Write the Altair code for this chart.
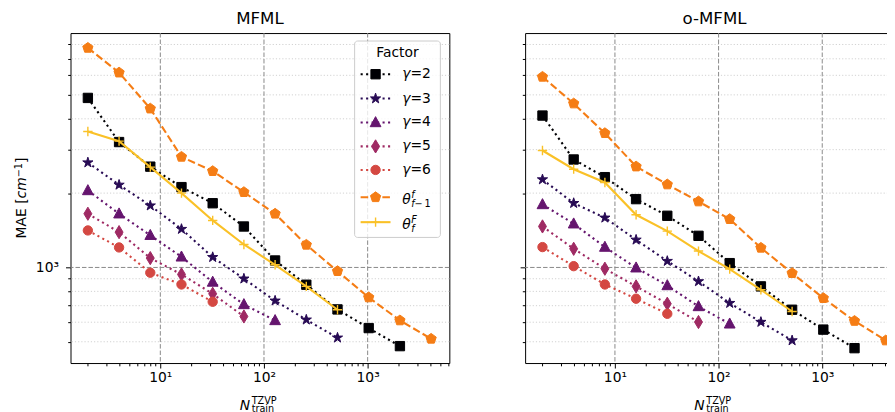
import math
import altair as alt
import pandas as pd

# ---------------- data ----------------
N_TRAIN = [2, 4, 8, 16, 32, 64, 128, 256, 512, 1024, 2048, 4096]

MFML_G2 = [4860, 3220, 2560, 2115, 1820, 1465, 1067, 851, 676, 568, 480]
MFML_G3 = [2660, 2160, 1780, 1430, 1100, 900, 733, 614, 519]
MFML_G4 = [2050, 1650, 1350, 1104, 873, 708, 610]
MFML_G5 = [1650, 1390, 1091, 937, 782, 633]
MFML_G6 = [1412, 1205, 952, 853, 726]
MFML_TPREV = [7750, 6155, 4400, 2805, 2455, 2018, 1650, 1235, 966, 756, 610, 514]
MFML_TF = [3553, 3247, 2548, 2000, 1550, 1239, 1025, 838, 674]

OMFML_G2 = [4123, 2737, 2321, 1891, 1619, 1343, 1041, 838, 674, 560, 471]
OMFML_G3 = [2271, 1821, 1589, 1294, 1061, 878, 717, 601, 506]
OMFML_G4 = [1799, 1503, 1209, 997, 845, 695, 591]
OMFML_G5 = [1466, 1190, 988, 838, 713, 601]
OMFML_G6 = [1209, 1012, 853, 747, 649]
OMFML_TPREV = [5916, 4613, 3498, 2563, 2168, 1850, 1569, 1201, 948, 751, 607, 506]
OMFML_TF = [2976, 2500, 2209, 1634, 1403, 1165, 985, 812, 663]

PANEL_TITLES = ["MFML", "o-MFML"]
PANEL_SERIES = [
    [MFML_G2, MFML_G3, MFML_G4, MFML_G5, MFML_G6, MFML_TPREV, MFML_TF],
    [OMFML_G2, OMFML_G3, OMFML_G4, OMFML_G5, OMFML_G6, OMFML_TPREV, OMFML_TF],
]
GAMMA_LABELS = ["=2", "=3", "=4", "=5", "=6"]
LEGEND_TITLE = "Factor"

X_MAJOR = [10, 100, 1000]
X_TICKS = [2, 3, 4, 5, 6, 7, 8, 9, 10, 20, 30, 40, 50, 60, 70, 80, 90,
           100, 200, 300, 400, 500, 600, 700, 800, 900, 1000,
           2000, 3000, 4000, 5000, 6000]
Y_MAJOR = [1000]
Y_TICKS = [500, 600, 700, 800, 900, 1000, 2000, 3000, 4000, 5000, 6000, 7000, 8000]
Y_MINOR = [t for t in Y_TICKS if t not in Y_MAJOR]

# ---------------- style ----------------
FONT = "DejaVu Sans"
FS = 13.9
FS_SMALL = 9.7
W, H = 380, 331
XDOM = [1.36, 6140]
YDOM = [410, 8900]

COLORS = ["#000004", "#280b54", "#65156e", "#9f2a63", "#d44842", "#f57d15", "#fac127"]
DOT = [2.1, 3.4]
DASH = [7.6, 3.3]
DASHES = [DOT, DOT, DOT, DOT, DOT, DASH, None]


def poly_path(pts):
    return "M" + "L".join(f"{x:.4f},{y:.4f}" for x, y in pts) + "Z"


def regular(n, r=1.0):
    return [(r * math.cos(math.radians(-90 + 360 * k / n)),
             r * math.sin(math.radians(-90 + 360 * k / n))) for k in range(n)]


def star(r_out=1.15):
    pts = []
    for k in range(10):
        r = r_out if k % 2 == 0 else r_out * 0.381966
        a = math.radians(-90 + 36 * k)
        pts.append((r * math.cos(a), r * math.sin(a)))
    return pts


SHAPES = [
    "square",
    poly_path(star()),
    "M0,-1.25L1.15,0.9L-1.15,0.9Z",
    "M0,-1.414L0.849,0L0,1.414L-0.849,0Z",
    "circle",
    poly_path(regular(5, 1.15)),
    "M-1,0L1,0M0,-1L0,1",
]
MSIZE = 88

ONE = pd.DataFrame({"k": [0]})


def xaxis():
    return alt.Axis(
        values=X_TICKS, title=None, grid=False, domain=False,
        labelExpr="datum.value == 10 ? '10¹' : datum.value == 100 ? '10²' : datum.value == 1000 ? '10³' : ''",
        tickSize={"condition": {"test": "indexof([10,100,1000], datum.value) >= 0", "value": 5}, "value": 2.8},
        tickColor="black", tickWidth=1, labelColor="black", labelFontSize=FS, labelFont=FONT,
        labelPadding=3, labelOverlap=False, labelFlush=False,
    )


def yaxis(show):
    return alt.Axis(
        values=Y_TICKS, title=None, grid=False, domain=False, labels=show,
        labelExpr="datum.value == 1000 ? '10³' : ''",
        tickSize={"condition": {"test": "datum.value == 1000", "value": 5}, "value": 2.8},
        tickColor="black", tickWidth=1, labelColor="black", labelFontSize=FS, labelFont=FONT,
        labelPadding=7, labelOverlap=False, labelFlush=False,
    )


def vtext(text, x, y, size=FS, italic=False, angle=0, align="left", baseline="alphabetic"):
    kw = dict(text=text, font=FONT, fontSize=size, color="black", align=align, baseline=baseline)
    if italic:
        kw["fontStyle"] = "italic"
    if angle:
        kw["angle"] = angle
    return alt.Chart(ONE).mark_text(**kw).encode(x=alt.value(x), y=alt.value(y))


def point_mark(i):
    c = COLORS[i]
    if i == 6:
        return dict(shape=SHAPES[i], filled=False, stroke=c, strokeWidth=1.4, size=MSIZE, opacity=1)
    return dict(shape=SHAPES[i], filled=True, fill=c, stroke=c, strokeWidth=1, size=MSIZE, opacity=1)


def line_mark(i):
    kw = dict(color=COLORS[i], strokeWidth=2.1)
    if DASHES[i] is not None:
        kw["strokeDash"] = DASHES[i]
    return kw


def panel(p):
    xs = alt.Scale(type="log", domain=XDOM, nice=False)
    ys = alt.Scale(type="log", domain=YDOM, nice=False)
    show_y = (p == 0)
    layers = []
    # grid
    layers.append(alt.Chart(pd.DataFrame({"y": Y_MINOR})).mark_rule(
        color="#d2d2d2", strokeDash=[1.2, 2], strokeWidth=1).encode(
        y=alt.Y("y:Q", scale=ys, axis=yaxis(show_y))))
    layers.append(alt.Chart(pd.DataFrame({"y": Y_MAJOR})).mark_rule(
        color="#8a8a8a", strokeDash=[4.5, 2], strokeWidth=1).encode(
        y=alt.Y("y:Q", scale=ys, axis=yaxis(show_y))))
    layers.append(alt.Chart(pd.DataFrame({"x": X_MAJOR})).mark_rule(
        color="#8a8a8a", strokeDash=[4.5, 2], strokeWidth=1).encode(
        x=alt.X("x:Q", scale=xs, axis=xaxis())))
    # series
    for i, vals in enumerate(PANEL_SERIES[p]):
        df = pd.DataFrame({"N": N_TRAIN[:len(vals)], "MAE": vals})
        base = alt.Chart(df).encode(
            x=alt.X("N:Q", scale=xs, axis=xaxis()),
            y=alt.Y("MAE:Q", scale=ys, axis=yaxis(show_y)))
        layers.append(base.mark_line(**line_mark(i)))
        layers.append(base.mark_point(**point_mark(i)))
    # panel title
    layers.append(vtext(PANEL_TITLES[p], W / 2, -9, size=16.7, align="center"))
    # x axis title  N_train^TZVP
    layers.append(vtext("N", 169.7, H + 47, italic=True))
    layers.append(vtext("TZVP", 181.7, H + 41, size=FS_SMALL))
    layers.append(vtext("train", 181.7, H + 49, size=FS_SMALL))
    if p == 0:
        # y axis title  MAE [cm^-1]
        y0 = 206
        w1 = 2.887 * FS
        w2 = 1.524 * FS
        w3 = 1.474 * FS_SMALL
        layers.append(vtext("MAE [", -45, y0, angle=270))
        layers.append(vtext("cm", -45, y0 - w1, italic=True, angle=270))
        layers.append(vtext("−1", -49, y0 - w1 - w2, size=FS_SMALL, angle=270))
        layers.append(vtext("]", -45, y0 - w1 - w2 - w3, angle=270))
        # legend
        layers.append(alt.Chart(ONE).mark_rect(
            fill="white", fillOpacity=0.8, stroke="#cccccc", strokeWidth=1, cornerRadius=3).encode(
            x=alt.value(285), x2=alt.value(371), y=alt.value(8), y2=alt.value(205)))
        layers.append(vtext(LEGEND_TITLE, 328, 19.7, align="center", baseline="middle"))
        rows = [41.3, 65.7, 89.7, 113.7, 137.3, 164.7, 189.7]
        for i, ry in enumerate(rows):
            layers.append(alt.Chart(ONE).mark_rule(**line_mark(i)).encode(
                x=alt.value(291), x2=alt.value(321), y=alt.value(ry)))
            layers.append(alt.Chart(ONE).mark_point(**point_mark(i)).encode(
                x=alt.value(306), y=alt.value(ry)))
            if i < 5:
                layers.append(vtext("γ", 332.7, ry, italic=True, baseline="middle"))
                layers.append(vtext(GAMMA_LABELS[i], 332.7 + 0.60 * FS, ry, baseline="middle"))
        tb = rows[5] + 7
        layers.append(vtext("θ", 332.7, tb, italic=True))
        layers.append(vtext("f", 341.7, tb - 6.5, size=FS_SMALL, italic=True))
        layers.append(vtext("f", 341.7, tb + 3, size=FS_SMALL, italic=True))
        layers.append(vtext("\u2009−\u20091", 345.1, tb + 3, size=FS_SMALL))
        tb = rows[6] + 7
        layers.append(vtext("θ", 332.7, tb, italic=True))
        layers.append(vtext("F", 341.7, tb - 6.5, size=FS_SMALL, italic=True))
        layers.append(vtext("f", 341.7, tb + 3, size=FS_SMALL, italic=True))
    return alt.layer(*layers).properties(width=W, height=H)


chart = alt.hconcat(panel(0), panel(1), spacing=69).properties(
    padding={"left": 4.7, "top": 1.5, "right": -18, "bottom": 0}
).configure_view(stroke="black", strokeWidth=1)

chart.save("out.html", embed_options={"renderer": "svg", "actions": False})
